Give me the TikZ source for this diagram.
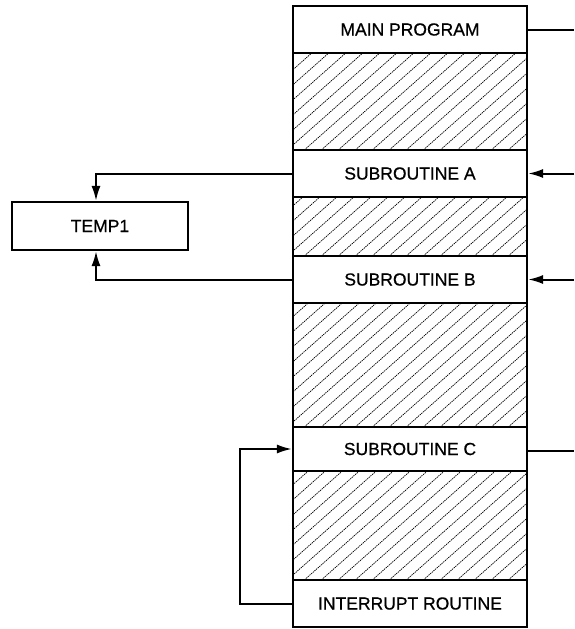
\documentclass[tikz,border=0pt]{standalone}
\usepackage{fontspec}
\setmainfont[FakeBold=0.6]{Liberation Sans}
\usetikzlibrary{arrows.meta}
\begin{document}
\begin{tikzpicture}[x=1pt,y=-1pt,
  txt/.style={font=\fontsize{17.5}{19}\selectfont},
  blk/.style={draw,line width=2.2pt,minimum width=234pt,inner sep=0pt,txt},
  hatchline/.style={line width=0.7pt,black,dash pattern=on 1.4pt off 0.8pt},
  hatch/.style={draw,line width=2.2pt,minimum width=234pt,inner sep=0pt,
    path picture={
      \foreach \x in {-170,-153,...,250}
        \draw[hatchline] ([xshift=\x pt,yshift=-10pt]path picture bounding box.south west) -- ++(158pt,140pt);
    }},
  conn/.style={line width=2pt},
  arr/.style={conn,-{Latex[length=15pt,width=9pt]}}]
\useasboundingbox (0,0) rectangle (574,629);

% column
\node[blk,minimum height=47pt] (main) at (410,29.5) {MAIN PROGRAM};
\node[hatch,minimum height=97pt] (h1) at (410,101.5) {};
\node[blk,minimum height=47pt] (suba) at (410,173.5) {SUBROUTINE A};
\node[hatch,minimum height=59pt] (h2) at (410,226.5) {};
\node[blk,minimum height=47pt] (subb) at (410,279.5) {SUBROUTINE B};
\node[hatch,minimum height=124pt] (h3) at (410,365) {};
\node[blk,minimum height=44pt] (subc) at (410,449) {SUBROUTINE C};
\node[hatch,minimum height=109pt] (h4) at (410,525.5) {};
\node[blk,minimum height=47pt] (intr) at (410,603.5) {INTERRUPT ROUTINE};

% temp box
\node[draw,line width=2.2pt,minimum width=176pt,minimum height=48pt,inner sep=0pt,txt] (temp) at (100,226) {TEMP1};

% right-side free ends
\coordinate (rm) at (574,30);
\coordinate (ra) at (574,173.5);
\coordinate (rb) at (574,279.5);
\coordinate (rc) at (574,451);

\draw[conn] (main.east |- rm) -- (rm);
\draw[arr] (ra) -- (suba.east |- ra);
\draw[arr] (rb) -- (subb.east |- rb);
\draw[conn] (subc.east |- rc) -- (rc);

% temp connections
\coordinate (tx) at (96,0);
\draw[arr] (suba.west) -- (tx |- suba.west) -- (tx |- temp.north);
\draw[arr] (subb.west) -- (tx |- subb.west) -- (tx |- temp.south);

% interrupt loop
\coordinate (lx) at (240,0);
\draw[arr] (intr.west) -- (lx |- intr.west) -- (lx |- subc.west) -- (subc.west);
\end{tikzpicture}
\end{document}
